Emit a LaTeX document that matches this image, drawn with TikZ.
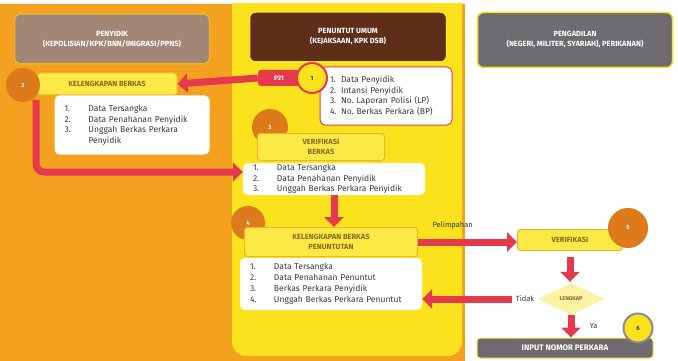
\documentclass[tikz,border=0pt]{standalone}
\usepackage{fontspec}
\setmainfont{Fira Sans}
\usetikzlibrary{arrows.meta,shapes.geometric}

\definecolor{oranye}{HTML}{F4A11F}
\definecolor{oranyetua}{HTML}{DC7A1C}
\definecolor{kuning}{HTML}{FAE31C}
\definecolor{kuningmuda}{HTML}{FBEA45}
\definecolor{kuningtua}{HTML}{EDB52A}
\definecolor{pucat}{HTML}{FBF2A4}
\definecolor{merah}{HTML}{E5394D}
\definecolor{cokelat}{HTML}{5E2E19}
\definecolor{mauve}{HTML}{A38776}
\definecolor{abu}{HTML}{6E6B70}
\definecolor{teks}{HTML}{3A3A3A}
\definecolor{teksolive}{HTML}{8A6A1C}

\newcommand{\no}[1]{\makebox[24pt][l]{#1}}

\begin{document}
\begin{tikzpicture}[x=1pt,y=-1pt,
        header/.style={rounded corners=6pt, line width=1.5pt, text=white, align=center,
                inner sep=0pt, font=\fontsize{7.5}{10}\selectfont\bfseries},
        stepbox/.style={fill=kuningmuda, draw=kuningtua, line width=1pt, rounded corners=3pt,
                text=teksolive, align=center, inner sep=0pt, font=\fontsize{7.5}{10.5}\selectfont\bfseries},
        nomor/.style={circle, fill=oranyetua, text=white, inner sep=0pt,
                font=\fontsize{6}{6}\selectfont\bfseries},
        daftar/.style={fill=white, rounded corners=5pt, text=teks, align=left, inner xsep=10pt,
                inner ysep=0pt, font=\fontsize{8.5}{10.5}\selectfont},
        panah/.style={draw=merah, line width=7pt, -{Triangle[length=10pt,width=19pt]}},
        label/.style={text=teks, font=\fontsize{7.5}{8}\selectfont}]
        \useasboundingbox (0,0) rectangle (678,361);
        % latar kolom
        \fill [white] (0,0) rectangle (678,361);
        \fill [oranye] (0,4) rectangle (465,361);
        \begin{scope}
                \clip (0,4) rectangle (678,361);
                \fill [kuning, rounded corners=14pt] (232,-20) rectangle (462,356);
        \end{scope}
        % kepala kolom
        \node [header, fill=mauve, draw=kuningtua, minimum width=195pt, minimum height=50pt] (penyidik)
                at (112,39) {PENYIDIK\\(KEPOLISIAN/KPK/BNN/IMIGRASI/PPNS)};
        \node [header, fill=cokelat, draw=kuning, minimum width=197pt, minimum height=50pt] (penuntut)
                at (348,37) {PENUNTUT UMUM\\(KEJAKSAAN, KPK DSB)};
        \node [header, fill=abu, draw=kuning, minimum width=195pt, minimum height=55pt] (pengadilan)
                at (575,40) {PENGADILAN\\(NEGERI, MILITER, SYARIAH), PERIKANAN)};
        % langkah 1
        \node [fill=merah, rounded corners=3pt, minimum width=46pt, minimum height=16pt, inner sep=0pt,
                text=white, font=\fontsize{6.5}{6}\selectfont\bfseries] (p21) at (281,78) {P21\hspace*{4pt}};
        \node [daftar, draw=merah, line width=1pt, text width=112pt, minimum height=58pt] (daftar1)
                at (386,96) {\makebox[11pt][l]{1.}Data Penyidik\\\makebox[11pt][l]{2.}Intansi Penyidik\\
                \makebox[11pt][l]{3.}No.\ Laporan Polisi (LP)\\\makebox[11pt][l]{4.}No.\ Berkas Perkara (BP)};
        \node [nomor, fill=kuning, text=teks, draw=merah, line width=2pt, minimum size=30pt] (n1) at (312,78) {1};
        % langkah 2
        \node [stepbox, minimum width=140pt, minimum height=22pt] (berkas2) at (107,84) {KELENGKAPAN BERKAS};
        \node [nomor, minimum size=34pt] (n2) at (23,85) {2};
        \node [daftar, text width=135pt, minimum height=59pt] (daftar2) at (132,125)
                {\no{1.}Data Tersangka\\\no{2.}Data Penahanan Penyidik\\\no{3.}Unggah Berkas Perkara\\\no{}Penyidik};
        \draw [panah] (p21.west) -- (berkas2.east);
        % langkah 3
        \node [nomor, minimum size=36pt] (n3) at (270,127) {3};
        \node [stepbox, minimum width=127pt, minimum height=27pt] (verif3) at (321,147) {VERIFIKASI\\BERKAS};
        \node [daftar, text width=162pt, minimum height=32pt] (daftar3) at (334,179)
                {\no{1.}Data Tersangka\\\no{2.}Data Penahanan Penyidik\\\no{3.}Unggah Berkas Perkara Penyidik};
        \coordinate (belok) at (36,100);
        \draw [panah, rounded corners=8pt] (belok) |- ([yshift=7pt]daftar3.west);
        % langkah 4
        \node [nomor, minimum size=34pt] (n4) at (248,223) {4};
        \node [stepbox, minimum width=173pt, minimum height=29pt] (berkas4) at (331,242)
                {KELENGKAPAN BERKAS\\PENUNTUTAN};
        \node [daftar, text width=162pt, minimum height=52pt, font=\fontsize{8.5}{11}\selectfont] (daftar4)
                at (331,284) {\no{1.}Data Tersangka\\\no{2.}Data Penahanan Penuntut\\\no{3.}Berkas Perkara Penyidik\\
                \no{4.}Unggah Berkas Perkara Penuntut};
        \draw [panah] (daftar3.south) -- (daftar3.south |- berkas4.north);
        % langkah 5
        \node [stepbox, minimum width=105pt, minimum height=21pt] (verif5) at (570,240) {VERIFIKASI};
        \node [nomor, minimum size=40pt] (n5) at (628,228) {5};
        \node [diamond, aspect=2, fill=pucat, minimum width=66pt, minimum height=32pt, inner sep=0pt,
                text=teksolive, font=\fontsize{5.5}{6}\selectfont\bfseries] (lengkap) at (571,299) {LENGKAP};
        \draw [panah] (berkas4.east) -- (verif5.west |- berkas4.east) node [label, pos=0.35, above=6pt] {Pelimpahan};
        \draw [panah, shorten <=6pt, shorten >=1pt] (verif5.south) -- (verif5.south |- lengkap.north);
        \node [label, anchor=east] (tidak) at (lengkap.west) {Tidak};
        \draw [panah] (tidak.west) -- (daftar4.east |- tidak.west);
        % langkah 6
        \node [header, fill=abu, draw=kuningmuda, line width=1pt, rounded corners=3pt, minimum width=176pt,
                minimum height=20pt, font=\fontsize{8}{10}\selectfont\bfseries] (input) at (565,348) {INPUT NOMOR PERKARA};
        \node [nomor, fill=kuning, text=teks, draw=abu!80, line width=2pt, minimum size=29pt] (n6) at (638,328) {6};
        \draw [panah] (lengkap.south) -- (lengkap.south |- input.north) node [label, midway, right=12pt] {Ya};
\end{tikzpicture}
\end{document}
